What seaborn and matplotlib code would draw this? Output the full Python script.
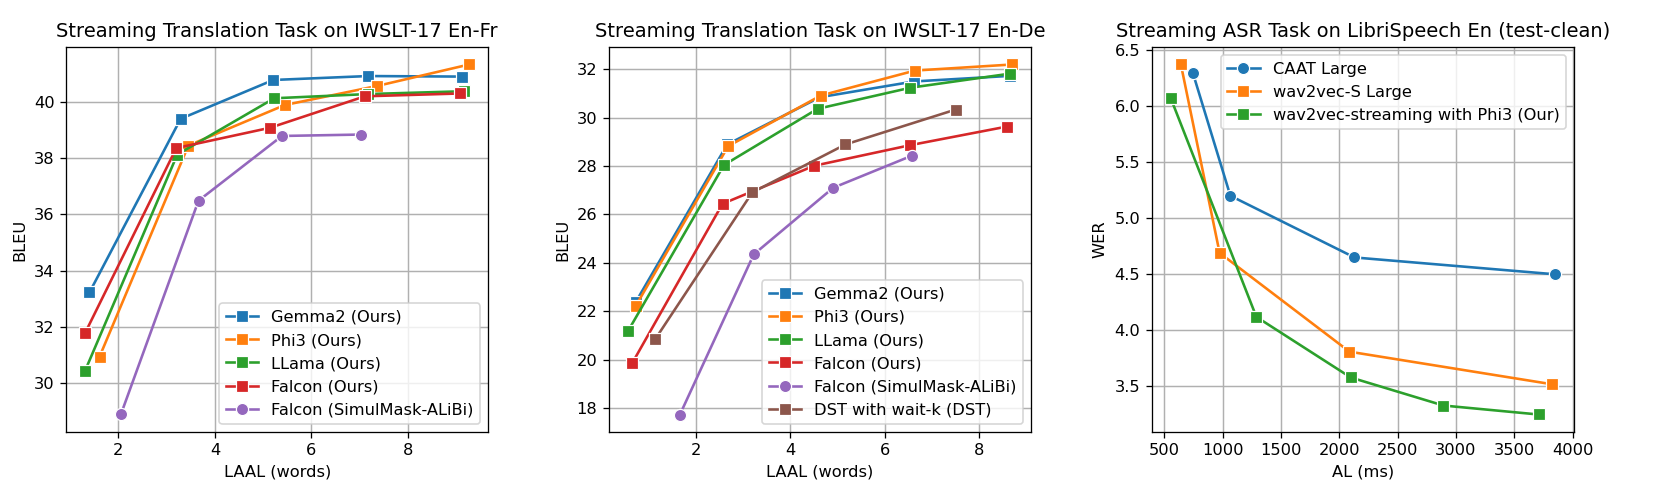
import matplotlib
matplotlib.use("Agg")
import matplotlib.pyplot as plt
import seaborn as sns

# En-Fr (LAAL words, BLEU)
fr_gemma_x = [1.40, 3.29, 5.21, 7.18, 9.13]
fr_gemma_y = [33.23, 39.40, 40.78, 40.92, 40.90]
fr_phi_x = [1.61, 3.45, 5.45, 7.37, 9.27]
fr_phi_y = [30.95, 38.45, 39.89, 40.57, 41.33]
fr_llama_x = [1.31, 3.22, 5.23, 7.18, 9.17]
fr_llama_y = [30.45, 38.13, 40.13, 40.28, 40.38]
fr_falcon_x = [1.31, 3.20, 5.14, 7.11, 9.08]
fr_falcon_y = [31.79, 38.36, 39.08, 40.20, 40.30]
fr_simul_x = [2.05, 3.66, 5.39, 7.02]
fr_simul_y = [28.89, 36.49, 38.79, 38.84]

# En-De
de_gemma_x = [0.74, 2.67, 4.63, 6.62, 8.65]
de_gemma_y = [22.40, 28.89, 30.84, 31.49, 31.72]
de_phi_x = [0.74, 2.69, 4.65, 6.64, 8.69]
de_phi_y = [22.24, 28.82, 30.91, 31.94, 32.19]
de_llama_x = [0.57, 2.60, 4.58, 6.54, 8.64]
de_llama_y = [21.18, 28.04, 30.36, 31.23, 31.81]
de_falcon_x = [0.66, 2.57, 4.51, 6.54, 8.59]
de_falcon_y = [19.86, 26.44, 28.01, 28.86, 29.63]
de_simul_x = [1.67, 3.23, 4.91, 6.58]
de_simul_y = [17.74, 24.35, 27.10, 28.43]
de_dst_x = [1.15, 3.20, 5.17, 7.50]
de_dst_y = [20.86, 26.91, 28.89, 30.33]

# ASR (AL ms, WER)
asr_caat_x = [746, 1066, 2130, 3847]
asr_caat_y = [6.29, 5.20, 4.65, 4.50]
asr_w2v_x = [642, 974, 2087, 3821]
asr_w2v_y = [6.37, 4.69, 3.81, 3.52]
asr_phi_x = [555, 1289, 2098, 2893, 3708]
asr_phi_y = [6.07, 4.12, 3.58, 3.33, 3.25]

pal = sns.color_palette("tab10")
DPI = 117


def draw(ax, x, y, label, color, marker):
    sns.lineplot(x=x, y=y, ax=ax, label=label, color=color, marker=marker,
                 markersize=7.5, linewidth=1.6, sort=False, estimator=None)


fig, axes = plt.subplots(1, 3, figsize=(1661 / DPI, 500 / DPI), dpi=DPI)
fig.subplots_adjust(left=0.0397, right=0.9476, bottom=0.136, top=0.906, wspace=0.285)

ax = axes[0]
draw(ax, fr_gemma_x, fr_gemma_y, "Gemma2 (Ours)", pal[0], "s")
draw(ax, fr_phi_x, fr_phi_y, "Phi3 (Ours)", pal[1], "s")
draw(ax, fr_llama_x, fr_llama_y, "LLama (Ours)", pal[2], "s")
draw(ax, fr_falcon_x, fr_falcon_y, "Falcon (Ours)", pal[3], "s")
draw(ax, fr_simul_x, fr_simul_y, "Falcon (SimulMask-ALiBi)", pal[4], "o")
ax.set_title("Streaming Translation Task on IWSLT-17 En-Fr", fontsize=12)
ax.set_xlabel("LAAL (words)")
ax.set_ylabel("BLEU")
ax.legend(loc="lower right", fontsize=10)

ax = axes[1]
draw(ax, de_gemma_x, de_gemma_y, "Gemma2 (Ours)", pal[0], "s")
draw(ax, de_phi_x, de_phi_y, "Phi3 (Ours)", pal[1], "s")
draw(ax, de_llama_x, de_llama_y, "LLama (Ours)", pal[2], "s")
draw(ax, de_falcon_x, de_falcon_y, "Falcon (Ours)", pal[3], "s")
draw(ax, de_simul_x, de_simul_y, "Falcon (SimulMask-ALiBi)", pal[4], "o")
draw(ax, de_dst_x, de_dst_y, "DST with wait-k (DST)", pal[5], "s")
ax.set_title("Streaming Translation Task on IWSLT-17 En-De", fontsize=12)
ax.set_xlabel("LAAL (words)")
ax.set_ylabel("BLEU")
ax.legend(loc="lower right", fontsize=10)

ax = axes[2]
draw(ax, asr_caat_x, asr_caat_y, "CAAT Large", pal[0], "o")
draw(ax, asr_w2v_x, asr_w2v_y, "wav2vec-S Large", pal[1], "s")
draw(ax, asr_phi_x, asr_phi_y, "wav2vec-streaming with Phi3 (Our)", pal[2], "s")
ax.set_title("Streaming ASR Task on LibriSpeech En (test-clean)", fontsize=12)
ax.set_xlabel("AL (ms)")
ax.set_ylabel("WER")
ax.set_xticks([500, 1000, 1500, 2000, 2500, 3000, 3500, 4000])
ax.legend(loc="upper right", fontsize=10)

for ax in axes:
    ax.grid(True, color="#b0b0b0", linewidth=0.9)
    ax.set_axisbelow(True)

fig.savefig("out.png", dpi=DPI)
